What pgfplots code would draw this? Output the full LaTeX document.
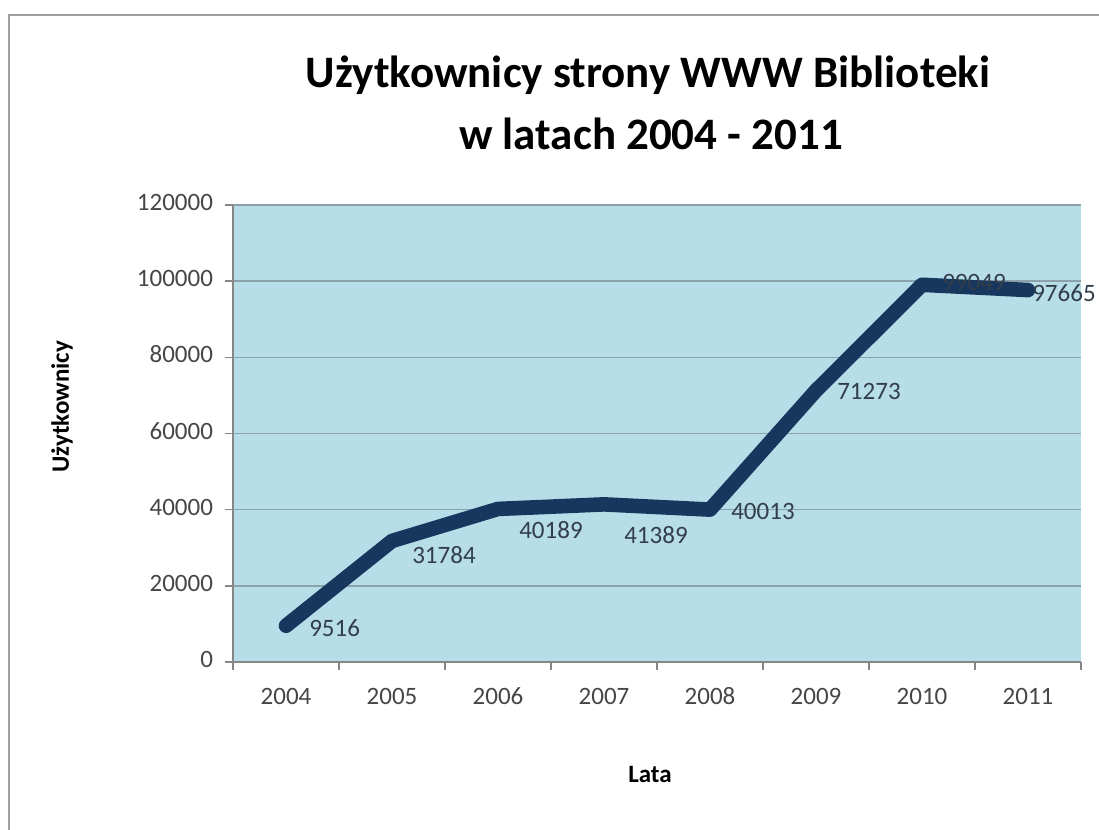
\documentclass[border=0pt]{standalone}
\usepackage{fontspec}
\setmainfont{Carlito}
\usepackage{pgfplots}
\usepackage{pgfplotstable}
\pgfplotsset{compat=1.18}
\definecolor{bgblue}{RGB}{183,221,232}
\definecolor{navy}{RGB}{23,55,94}
\definecolor{gridc}{RGB}{140,162,170}
\definecolor{axc}{RGB}{134,134,134}
\definecolor{tickc}{RGB}{70,70,70}
\definecolor{labc}{RGB}{50,62,75}
\definecolor{framec}{RGB}{160,160,160}
\pgfplotstableread{
x y dx dy label
0 9516 8 -1 9516
1 31784 6.5 -7 31784
2 40189 7 -10.5 40189
3 41389 6.5 -15.5 41389
4 40013 7 -1 40013
5 71273 7 -0.5 71273
6 99049 6.5 1 99049
7 97665 -1.5 -1.5 97665
}\datatable
\begin{document}
\begin{tikzpicture}
\useasboundingbox (0,0) rectangle (549.5pt,415pt);
\draw[framec, line width=1pt] (4.5pt,0) -- (4.5pt,407.5pt) -- (549.5pt,407.5pt);
\begin{axis}[
  at={(116.5pt,84pt)}, anchor=south west,
  scale only axis, width=424pt, height=228.5pt,
  clip=false,
  xmin=-0.5, xmax=7.5, ymin=0, ymax=120000,
  xtick={0,...,7},
  xticklabels={2004,2005,2006,2007,2008,2009,2010,2011},
  minor xtick={-0.5,0.5,...,7.5},
  major x tick style={draw=none},
  minor x tick style={draw=axc, line width=0.7pt},
  ytick={0,20000,40000,60000,80000,100000,120000},
  yticklabels={0,20000,40000,60000,80000,100000,120000},
  y tick style={draw=axc, line width=0.7pt},
  major tick length=4pt, minor tick length=4pt,
  tick align=outside,
  scaled y ticks=false,
  typeset ticklabels with strut,
  axis x line*=bottom, axis y line*=left,
  axis line style={draw=axc, line width=0.7pt},
  axis background/.style={fill=bgblue},
  ymajorgrids, grid style={draw=gridc, line width=0.7pt},
  ticklabel style={font=\fontsize{12.5}{14}\selectfont, text=tickc},
  xticklabel style={yshift=-4pt},
  yticklabel style={xshift=-2.5pt},
]
\addplot[navy, line width=7.3pt, line join=round, line cap=round,
  visualization depends on={\thisrow{dx}\as\dx},
  visualization depends on={\thisrow{dy}\as\dy},
  point meta=explicit symbolic,
  nodes near coords={\pgfplotspointmeta},
  nodes near coords style={anchor=west, inner sep=0pt, xshift=\dx pt, yshift=\dy pt,
    font=\fontsize{12.5}{14}\selectfont, text=labc}]
  table[x=x, y=y, meta=label] {\datatable};
\end{axis}
\node[anchor=base, font=\bfseries\fontsize{22.5}{27}\selectfont] at (324pt,371pt) {Użytkownicy strony WWW Biblioteki};
\node[anchor=base, font=\bfseries\fontsize{22.5}{27}\selectfont] at (325.5pt,340pt) {w latach 2004 - 2011};
\node[rotate=90, font=\bfseries\fontsize{12.5}{14}\selectfont] at (31pt,211.5pt) {Użytkownicy};
\node[anchor=base, font=\bfseries\fontsize{12.5}{14}\selectfont] at (325pt,23.5pt) {Lata};
\end{tikzpicture}
\end{document}
